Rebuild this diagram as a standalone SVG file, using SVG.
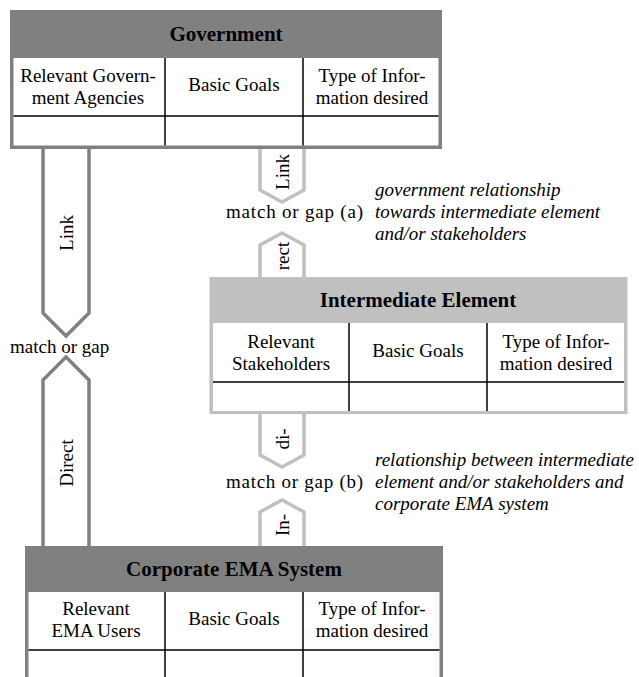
<svg xmlns="http://www.w3.org/2000/svg" width="639" height="677" viewBox="0 0 639 677">
<style>
text { font-family: "Liberation Serif", "Times New Roman", serif; fill: #000; }
.t { font-size: 19px; text-anchor: middle; }
.h { font-size: 21px; font-weight: bold; text-anchor: middle; }
.i { font-size: 19px; font-style: italic; }
.r { font-size: 19px; text-anchor: middle; dominant-baseline: central; }
.m { font-size: 19px; }
.cell { stroke: #000; stroke-width: 1.5; fill: none; }
.dk { fill: none; stroke: #808080; stroke-width: 3.5; }
.lt { fill: none; stroke: #c0c0c0; stroke-width: 3.5; }
</style>
<rect width="639" height="677" fill="#fff"/>
<g id="connectors">
  <polyline class="dk" points="43,149 43,313 66,336 89,313 89,149" fill="#fff"/>
  <polyline class="dk" points="43,546 43,380 66,357 89,380 89,546" fill="#fff"/>
  <polyline class="lt" points="260,149 260,190 282,202 304,190 304,149" fill="#fff"/>
  <polyline class="lt" points="260,277 260,245 282,233 304,245 304,277" fill="#fff"/>
  <polyline class="lt" points="260,414 260,455 282,467 304,455 304,414" fill="#fff"/>
  <polyline class="lt" points="260,546 260,512 282,500 304,512 304,546" fill="#fff"/>
  <text class="r" transform="rotate(-90 66 233)" x="66" y="233">Link</text>
  <text class="r" transform="rotate(-90 66 463)" x="66" y="463">Direct</text>
  <text class="r" transform="rotate(-90 282 172)" x="282" y="172">Link</text>
  <text class="r" transform="rotate(-90 282 256)" x="282" y="256">rect</text>
  <text class="r" transform="rotate(-90 282 439)" x="282" y="439">di-</text>
  <text class="r" transform="rotate(-90 282 525)" x="282" y="525">In-</text>
  <text class="m" x="10" y="353">match or gap</text>
  <text class="m" x="226" y="218" textLength="137" lengthAdjust="spacing">match or gap (a)</text>
  <text class="m" x="226" y="488" textLength="137" lengthAdjust="spacing">match or gap (b)</text>
</g>
<g id="government">
  <rect x="10" y="10" width="432" height="139" fill="#808080"/>
  <rect x="13.5" y="58" width="425" height="87.5" fill="#fff"/>
  <line class="cell" x1="13.5" y1="116" x2="438.5" y2="116"/>
  <line class="cell" x1="165" y1="58" x2="165" y2="145.5"/>
  <line class="cell" x1="303" y1="58" x2="303" y2="145.5"/>
  <text class="h" x="226" y="41">Government</text>
  <text class="t" x="88" y="82">Relevant Govern-</text>
  <text class="t" x="88" y="104">ment Agencies</text>
  <text class="t" x="234" y="91">Basic Goals</text>
  <text class="t" x="372" y="82">Type of Infor-</text>
  <text class="t" x="372" y="104">mation desired</text>
</g>
<g id="note-a">
  <text class="i" x="375" y="196">government relationship</text>
  <text class="i" x="375" y="218">towards intermediate element</text>
  <text class="i" x="375" y="240">and/or stakeholders</text>
</g>
<g id="intermediate">
  <rect x="209.5" y="277" width="418" height="137" fill="#c0c0c0"/>
  <rect x="213" y="323" width="411" height="88" fill="#fff"/>
  <line class="cell" x1="213" y1="382" x2="624" y2="382"/>
  <line class="cell" x1="349" y1="323" x2="349" y2="411"/>
  <line class="cell" x1="487" y1="323" x2="487" y2="411"/>
  <text class="h" x="418" y="307">Intermediate Element</text>
  <text class="t" x="281" y="348">Relevant</text>
  <text class="t" x="281" y="370">Stakeholders</text>
  <text class="t" x="418" y="357">Basic Goals</text>
  <text class="t" x="556" y="348">Type of Infor-</text>
  <text class="t" x="556" y="370">mation desired</text>
</g>
<g id="note-b">
  <text class="i" x="375" y="466">relationship between intermediate</text>
  <text class="i" x="375" y="488">element and/or stakeholders and</text>
  <text class="i" x="375" y="510">corporate EMA system</text>
</g>
<g id="corporate">
  <rect x="25" y="546" width="418" height="140" fill="#808080"/>
  <rect x="28.5" y="592" width="411" height="100" fill="#fff"/>
  <line class="cell" x1="28.5" y1="650" x2="439.5" y2="650"/>
  <line class="cell" x1="165" y1="592" x2="165" y2="677"/>
  <line class="cell" x1="303" y1="592" x2="303" y2="677"/>
  <text class="h" x="234" y="576">Corporate EMA System</text>
  <text class="t" x="96" y="615">Relevant</text>
  <text class="t" x="96" y="637">EMA Users</text>
  <text class="t" x="234" y="625">Basic Goals</text>
  <text class="t" x="372" y="615">Type of Infor-</text>
  <text class="t" x="372" y="637">mation desired</text>
</g>
</svg>
